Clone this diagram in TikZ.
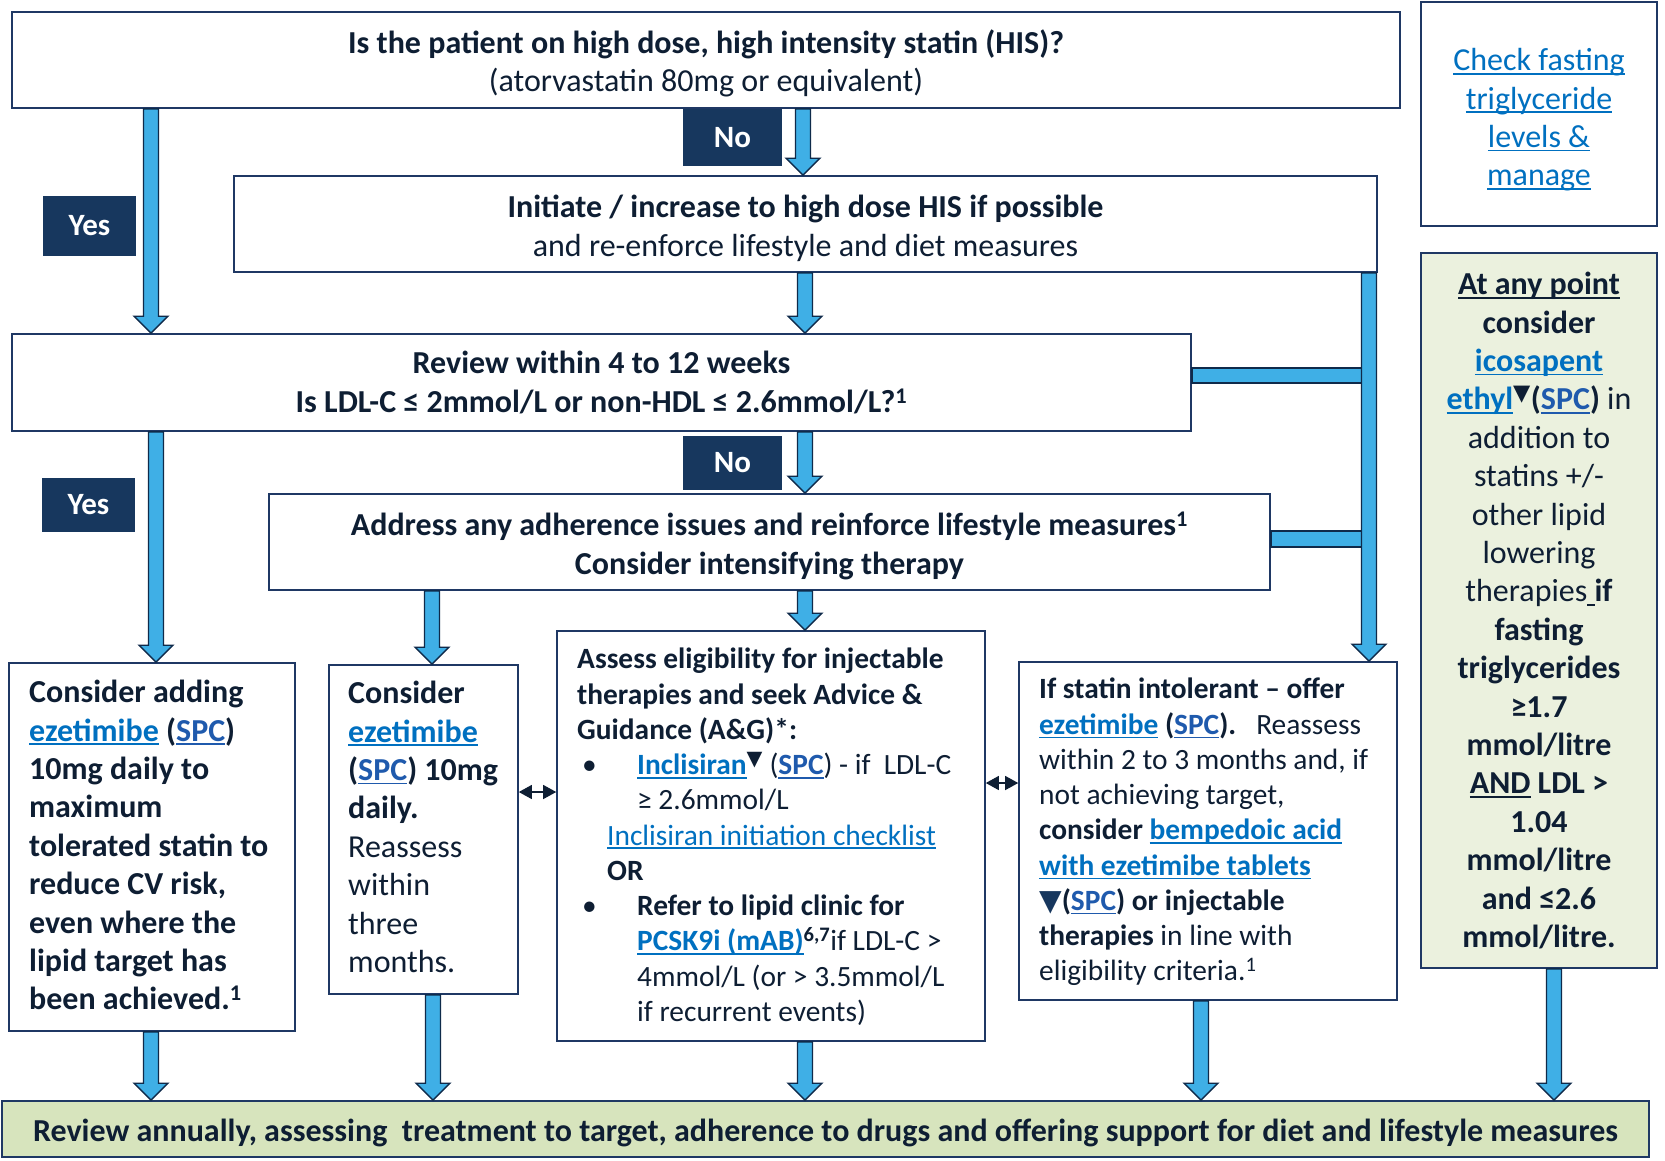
\documentclass[tikz,border=0pt]{standalone}
\usepackage{fontspec}
\setmainfont{Carlito}
\newfontfamily\djv{DejaVu Sans}
\usetikzlibrary{calc,arrows.meta}
\definecolor{navy}{HTML}{17375E}
\definecolor{txt}{HTML}{0E1E33}
\definecolor{lnk}{HTML}{0070C0}
\definecolor{lnkb}{HTML}{1F5AAD}
\definecolor{abl}{HTML}{3FAFE6}
\definecolor{aln}{HTML}{0F2A4A}
\definecolor{lgreen}{HTML}{EBF1DE}
\definecolor{bgreen}{HTML}{D7E4BD}
\definecolor{bord}{HTML}{1F3864}
\newcommand\ul[1]{\setbox0=\hbox{#1}\rlap{\rule[-4pt]{\wd0}{1.6pt}}\box0\relax}
\newcommand\lk[1]{\textcolor{lnk}{\ul{#1}}}
\newcommand\lkb[1]{\textcolor{lnkb}{\ul{#1}}}
\newcommand\tri{\textsuperscript{\djv ▼}}
\newcommand\tp{\rule{0pt}{31pt}}
\newcommand\barrow[3]{%
  \path[draw=aln, fill=abl, line width=1.4pt, line join=miter]
    let \p1=(#2.south), \p2=(#3.north) in
    (#1pt-7.5pt,\y1) -- (#1pt+7.5pt,\y1) -- (#1pt+7.5pt,\y2+17pt) -- (#1pt+17pt,\y2+17pt)
    -- (#1pt,\y2) -- (#1pt-17pt,\y2+17pt) -- (#1pt-7.5pt,\y2+17pt) -- cycle;}
\begin{document}
\begin{tikzpicture}[x=1pt,y=-1pt,
  box/.style={draw=bord, line width=1.6pt, fill=white, inner sep=0pt, text=txt},
  lbl/.style={fill=navy, text=white, inner sep=0pt, font=\fontsize{31}{34}\selectfont\bfseries},
  big/.style={font=\fontsize{32}{38.4}\selectfont},
  bigb/.style={font=\fontsize{32}{38.4}\selectfont\bfseries},
  small/.style={font=\fontsize{29.4}{35.25}\selectfont},
  txtnode/.style={inner sep=0pt, anchor=north west, align=left, text=txt},
  bar/.style={draw=aln, fill=abl, line width=1.4pt},
  dbl/.style={draw=txt, line width=1.2pt, {Triangle[length=13pt,width=14pt]}-{Triangle[length=13pt,width=14pt]}}
]
\fill[white] (0,0) rectangle (1665,1160);
\useasboundingbox (0,0) rectangle (1665,1160);

% boxes
\node[box, big, minimum width=1388, minimum height=96, align=center] (q1) at (706,60)
  {\tp\textbf{Is the patient on high dose, high intensity statin (HIS)?}\\(atorvastatin 80mg or equivalent)};
\node[box, big, minimum width=1143, minimum height=96, align=center] (init) at (805.5,224)
  {\tp\textbf{Initiate / increase to high dose HIS if possible}\\and re-enforce lifestyle and diet measures};
\node[box, bigb, minimum width=1179, minimum height=97, align=center] (review) at (601.5,382.5)
  {Review within 4 to 12 weeks\\Is LDL-C ≤ 2mmol/L or non-HDL ≤ 2.6mmol/L?\textsuperscript{1}};
\node[box, bigb, minimum width=1001, minimum height=96, align=center] (address) at (769.5,542)
  {\tp Address any adherence issues and reinforce lifestyle measures\textsuperscript{1}\\Consider intensifying therapy};
\node[box, minimum width=286, minimum height=368] (addbox) at (152,847) {};
\node[box, minimum width=189, minimum height=329] (ezebox) at (423.5,829.5) {};
\node[box, minimum width=428, minimum height=410] (assess) at (771,836) {};
\node[box, minimum width=378, minimum height=338] (statin) at (1208,831) {};
\node[box, big, line width=2.5pt, minimum width=236, minimum height=224, align=center, text=lnk] (fast) at (1539,114)
  {\rule{0pt}{34pt}\lk{Check fasting}\\\lk{triglyceride}\\\lk{levels \&}\\\lk{manage}};
\node[box, big, fill=lgreen, minimum width=236, minimum height=715, align=center] (atany) at (1539,610.5)
  {\textbf{\ul{At any point}}\\\textbf{consider}\\\textbf{\lk{icosapent}}\\\textbf{\lk{ethyl}\tri(\lkb{SPC})} in\\addition to\\statins +/-\\other lipid\\lowering\\therapies\ul{\ }\textbf{if}\\\textbf{fasting}\\\textbf{triglycerides}\\\textbf{≥1.7}\\\textbf{mmol/litre}\\\textbf{\ul{AND} LDL >}\\\textbf{1.04}\\\textbf{mmol/litre}\\\textbf{and ≤2.6}\\\textbf{mmol/litre.}};
\node[box, bigb, fill=bgreen, minimum width=1647, minimum height=56] (annual) at (825.5,1129)
  {\tp Review annually, assessing\ \ treatment to target, adherence to drugs and offering support for diet and lifestyle measures};

% texts in left-aligned boxes
\node[txtnode, bigb] (addtxt) at (29,680)
  {Consider adding\\\lk{ezetimibe} (\lkb{SPC})\\10mg daily to\\maximum\\tolerated statin to\\reduce CV risk,\\even where the\\lipid target has\\been achieved.\textsuperscript{1}};
\node[txtnode, big] (ezetxt) at (348,681)
  {\textbf{Consider}\\\textbf{\lk{ezetimibe}}\\\textbf{(\lkb{SPC}) 10mg}\\\textbf{daily.}\\Reassess\\within\\three\\months.};
\node[txtnode, small] (assesstxt) at (577,648)
  {\textbf{Assess eligibility for injectable}\\
   \textbf{therapies and seek Advice \&}\\
   \textbf{Guidance (A\&G)*:}\\
   \makebox[60pt][l]{\hspace*{5pt}•}\textbf{\lk{Inclisiran}}\tri\ (\textbf{\lkb{SPC}}) - if\ \ LDL-C\\
   \hspace*{60pt}≥ 2.6mmol/L\\
   \hspace*{30pt}\lk{Inclisiran initiation checklist}\\
   \hspace*{30pt}\textbf{OR}\\
   \makebox[60pt][l]{\hspace*{5pt}•}\textbf{Refer to lipid clinic for}\\
   \hspace*{60pt}\textbf{\lk{PCSK9i (mAB)}\textsuperscript{6,7}}if LDL-C >\\
   \hspace*{60pt}4mmol/L (or > 3.5mmol/L\\
   \hspace*{60pt}if recurrent events)};
\node[txtnode, small] (statintxt) at (1039,678)
  {\textbf{If statin intolerant – offer}\\
   \textbf{\lk{ezetimibe} (\lkb{SPC}).}\ \ \ Reassess\\
   within 2 to 3 months and, if\\
   not achieving target,\\
   \textbf{consider \lk{bempedoic acid}}\\
   \textbf{\lk{with ezetimibe tablets}}\\
   \textbf{{\djv\color{navy}▼}(\lkb{SPC}) or injectable}\\
   \textbf{therapies} in line with\\
   eligibility criteria.\textsuperscript{1}};

% side bars into the right-hand connector
\draw[bar] (review.east |- 0,368) rectangle (1363,383);
\draw[bar] (address.east |- 0,531) rectangle (1363,547);

% block arrows
\barrow{151}{q1}{review}
\barrow{803}{q1}{init}
\barrow{805}{init}{review}
\barrow{1369}{init}{statin}
\barrow{156}{review}{addbox}
\barrow{805}{review}{address}
\barrow{432}{address}{ezebox}
\barrow{805}{address}{assess}
\barrow{151}{addbox}{annual}
\barrow{433}{ezebox}{annual}
\barrow{805}{assess}{annual}
\barrow{1201}{statin}{annual}
\barrow{1554}{atany}{annual}

% double arrows
\draw[dbl] (ezebox.east |- 0,792) -- (assess.west |- 0,792);
\draw[dbl] (assess.east |- 0,783) -- (statin.west |- 0,783);

% yes / no labels
\node[lbl, minimum width=99, minimum height=57] (no1) at (732.5,137.5) {No};
\node[lbl, minimum width=93, minimum height=60] (yes1) at (89.5,226) {Yes};
\node[lbl, minimum width=99, minimum height=54] (no2) at (732.5,463) {No};
\node[lbl, minimum width=93, minimum height=54] (yes2) at (88.5,505) {Yes};
\end{tikzpicture}
\end{document}
